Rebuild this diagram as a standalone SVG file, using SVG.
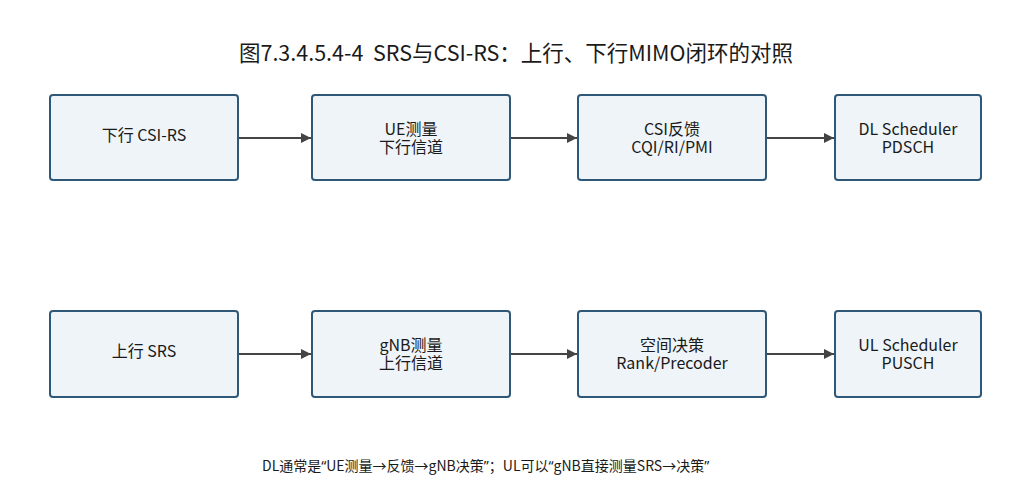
<svg xmlns="http://www.w3.org/2000/svg" width="1032" height="488" viewBox="0 0 1032 488">
<defs>
<style>
.box{fill:#EEF4F8;stroke:#2F5878;stroke-width:2}
.t{font-family:"Noto Sans CJK SC","Noto Sans",sans-serif;font-size:16px;fill:#1a1a1a;text-anchor:middle}
.f{font-family:"Noto Sans CJK SC","Noto Sans",sans-serif;font-size:14px;fill:#1a1a1a}
.q{font-family:"Noto Sans","DejaVu Sans",sans-serif}
.title{font-family:"Noto Sans CJK SC","Noto Sans",sans-serif;font-size:21.5px;fill:#1a1a1a;text-anchor:middle;white-space:pre}
.c{stroke:#444;stroke-width:2;fill:none;marker-end:url(#ah)}
</style>
<marker id="ah" viewBox="0 0 10 10" refX="10" refY="5" markerWidth="10" markerHeight="10" markerUnits="userSpaceOnUse" orient="auto"><path d="M0,0L10,5L0,10z" fill="#444"/></marker>
</defs>
<rect width="1032" height="488" fill="#fff"/>
<text class="title" x="516" y="61" xml:space="preserve">图7.3.4.5.4-4  SRS与CSI-RS：上行、下行MIMO闭环的对照</text>
<g id="n1"><rect class="box" x="50" y="95" width="188" height="85" rx="3"/><text class="t" x="144" y="141" xml:space="preserve">下行 CSI-RS</text></g>
<g id="n2"><rect class="box" x="312" y="95" width="198" height="85" rx="3"/><text class="t" x="411" y="135">UE测量</text><text class="t" x="411" y="153">下行信道</text></g>
<g id="n3"><rect class="box" x="578" y="95" width="188" height="85" rx="3"/><text class="t" x="672" y="135">CSI反馈</text><text class="t" x="672" y="153">CQI/RI/PMI</text></g>
<g id="n4"><rect class="box" x="835" y="95" width="146" height="85" rx="3"/><text class="t" x="908" y="135">DL Scheduler</text><text class="t" x="908" y="153">PDSCH</text></g>
<g id="n5"><rect class="box" x="50" y="311" width="188" height="86" rx="3"/><text class="t" x="144" y="357" xml:space="preserve">上行 SRS</text></g>
<g id="n6"><rect class="box" x="312" y="311" width="198" height="86" rx="3"/><text class="t" x="411" y="351">gNB测量</text><text class="t" x="411" y="369">上行信道</text></g>
<g id="n7"><rect class="box" x="578" y="311" width="188" height="86" rx="3"/><text class="t" x="672" y="351">空间决策</text><text class="t" x="672" y="369">Rank/Precoder</text></g>
<g id="n8"><rect class="box" x="835" y="311" width="146" height="86" rx="3"/><text class="t" x="908" y="351">UL Scheduler</text><text class="t" x="908" y="369">PUSCH</text></g>
<g id="connectors">
<line class="c" x1="239" y1="138" x2="311" y2="138"/>
<line class="c" x1="511" y1="138" x2="577" y2="138"/>
<line class="c" x1="767" y1="138" x2="834" y2="138"/>
<line class="c" x1="239" y1="354" x2="311" y2="354"/>
<line class="c" x1="511" y1="354" x2="577" y2="354"/>
<line class="c" x1="767" y1="354" x2="834" y2="354"/>
</g>
<text class="f" x="262" y="471">DL通常是<tspan class="q">“</tspan>UE测量→反馈→gNB决策<tspan class="q">”</tspan>；UL可以<tspan class="q">“</tspan>gNB直接测量SRS→决策<tspan class="q">”</tspan></text>
</svg>
